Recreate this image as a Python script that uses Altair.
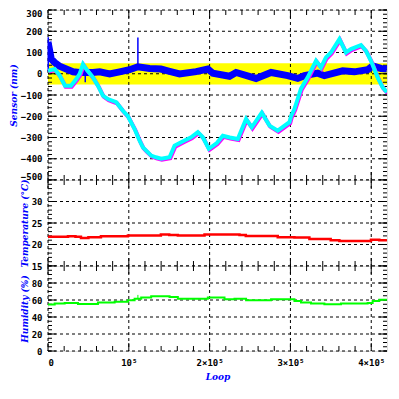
import altair as alt
import pandas as pd

XMAX = 419500
W = 339
H_TOP, H_MID, H_BOT = 170, 86, 85

# ---- data ----
blue_x = [0, 2000, 4080, 8280, 14460, 22620, 30900, 39180, 55620, 63900, 76260, 88630,
          100990, 111240, 125710, 139680, 150430, 162790, 183300, 197780, 203960, 224600,
          232750, 257490, 276020, 296660, 309020, 317300, 333730, 342010, 364640, 379100,
          395550, 401730, 412000, 419400]
blue_y = [150, 110, 69, 53, 35, 22, 9, 6, 6, 9, -1, 9,
          19, 33, 25, 22, 11, -1, 10, 22, 3, -12,
          6, -22, 6, -9, -22, -9, 3, -9, 14, 9,
          19, 37, 25, 22]

spike_x = [300, 46100, 111240]
spike_lo = [10, -40, 33]
spike_hi = [172, 5, 171]

cyan_x = [0, 8280, 14460, 21010, 28430, 34980, 39180, 43260, 47340, 55620, 61800, 67980,
          74170, 84430, 92710, 98890, 107170, 113350, 117430, 121510, 127690, 133500,
          140050, 150430, 156610, 164770, 168970, 177130, 185410, 191590, 199010, 208900,
          216320, 224970, 234860, 245120, 252170, 264530, 274050, 284310, 298770, 300740,
          304950, 313110, 321390, 331650, 337820, 344000, 350190, 360570, 368730, 374910,
          387280, 393450, 399630, 407910, 414090, 419400]
cyan_y = [14, 22, -9, -56, -56, -25, -1, 45, 22, -17, -56, -103,
          -119, -134, -174, -200, -260, -315, -346, -362, -385, -393,
          -400, -393, -338, -322, -314, -299, -275, -299, -353, -326,
          -292, -300, -307, -213, -252, -183, -244, -268, -228, -200,
          -166, -70, -17, 61, 30, 77, 100, 163, 100, 116,
          135, 108, 61, -17, -64, -87]
magenta_x = [900, 9180, 15360, 21910, 29330, 35880, 40080, 44160, 48240, 56520, 62700, 68880,
             75070, 85330, 93610, 99790, 108070, 114250, 118330, 122410, 128590, 134400,
             140950, 151330, 157510, 165670, 169870, 178030, 186310, 192490, 199910, 209800,
             217220, 225870, 235760, 246020, 253070, 265430, 274950, 285210, 299670, 301640,
             305850, 314010, 322290, 332550, 338720, 344900, 351090, 361470, 369630, 375810,
             388180, 394350, 400530, 408810, 414990, 420300]
magenta_y = [10, 17, -14, -61, -61, -30, -6, 40, 17, -22, -61, -108,
             -124, -139, -179, -205, -265, -320, -351, -367, -390, -398,
             -405, -398, -343, -327, -319, -304, -280, -304, -358, -331,
             -297, -305, -312, -218, -257, -188, -249, -273, -233, -205,
             -171, -75, -22, 56, 25, 72, 95, 158, 95, 111,
             130, 103, 56, -22, -69, -92]

temp_x = [0, 24720, 34000, 40790, 50000, 65510, 80000, 98890, 139680, 150000, 160690,
          185410, 193700, 236960, 244750, 263660, 284310, 304950, 323480, 349810,
          360570, 383190, 399630, 410000, 419400]
temp_y = [21.8, 21.9, 21.8, 21.5, 21.7, 21.9, 21.9, 22.1, 22.3, 22.2, 22.1,
          22.1, 22.3, 22.2, 22.0, 22.0, 21.7, 21.6, 21.3, 21.0,
          20.8, 20.8, 21.1, 21.0, 21.0]

hum_x = [0, 8280, 20640, 37080, 55620, 61800, 82450, 98890, 107170, 115330, 127690,
         150430, 160690, 185410, 197780, 218420, 230780, 245120, 267860, 276020, 298770,
         304950, 313110, 325470, 342010, 362530, 379100, 395550, 401730, 410010, 419400]
hum_y = [54.6, 55.8, 56.5, 55.3, 55.3, 57, 58, 59.6, 61.6, 62.8, 64.3,
         63.5, 61.6, 61.6, 62.8, 61, 61.6, 59.6, 59.6, 61, 61,
         58.8, 57, 55.8, 55, 55.8, 55.8, 56.5, 58.8, 60.4, 60.4]
hum_spike_x = [111240]
hum_spike_lo = [62]
hum_spike_hi = [66]

band_lo = [-50]
band_hi = [50]

x_major = [0, 100000, 200000, 300000, 400000]
x_minor = [v for v in range(0, 420000, 20000) if v % 100000 != 0]
sensor_major = [-500, -400, -300, -200, -100, 0, 100, 200, 300]
sensor_minor = list(range(-500, 301, 20))
temp_major = [15, 20, 25, 30, 35]
temp_minor = list(range(15, 36))
hum_major = [0, 20, 40, 60, 80, 100]
hum_minor = list(range(0, 101, 5))

LABEL_FONT = "DejaVu Sans Mono"
TITLE_FONT = "DejaVu Serif"
BLUE = "#0000FF"

xs = alt.Scale(domain=[0, XMAX], nice=False, zero=False)


def tdf(vals):
    return pd.DataFrame({"t": vals})


def yaxis(title, values, **kw):
    return alt.Axis(title=title, values=values, ticks=False, domain=False, grid=False,
                    labelPadding=6, titlePadding=2, titleColor=BLUE,
                    titleFont=TITLE_FONT, titleFontStyle="italic", titleFontWeight="bold",
                    titleFontSize=9, labelFont=LABEL_FONT, labelFontWeight="bold",
                    labelFontSize=9, labelColor="black", **kw)


def panel(H, ys, ymaj, ymin, xaxis, yax, pre, post):
    X = lambda f: alt.X(f, scale=xs, axis=xaxis)
    Y = lambda f: alt.Y(f, scale=ys, axis=yax)
    grid_style = dict(color="black", strokeDash=[3, 3], strokeWidth=1)
    layers = [p(X, Y) for p in pre]
    layers.append(alt.Chart(tdf(x_major)).mark_rule(**grid_style).encode(
        x=X("t:Q"), y=alt.value(0), y2=alt.value(H)))
    layers.append(alt.Chart(tdf(ymaj)).mark_rule(**grid_style).encode(
        y=Y("t:Q"), x=alt.value(0), x2=alt.value(W)))
    tick_style = dict(color="black", strokeWidth=1)
    for vals, L in ((x_minor, 5), (x_major, 8)):
        layers.append(alt.Chart(tdf(vals)).mark_rule(**tick_style).encode(
            x=X("t:Q"), y=alt.value(H), y2=alt.value(H - L)))
        layers.append(alt.Chart(tdf(vals)).mark_rule(**tick_style).encode(
            x=X("t:Q"), y=alt.value(0), y2=alt.value(L)))
    for vals, L in ((ymin, 4), (ymaj, 8)):
        layers.append(alt.Chart(tdf(vals)).mark_rule(**tick_style).encode(
            y=Y("t:Q"), x=alt.value(0), x2=alt.value(L)))
        layers.append(alt.Chart(tdf(vals)).mark_rule(**tick_style).encode(
            y=Y("t:Q"), x=alt.value(W), x2=alt.value(W - L)))
    layers += [p(X, Y) for p in post]
    return alt.layer(*layers).properties(width=W, height=H)


# ---- top panel: sensor ----
df_band = pd.DataFrame({"lo": band_lo, "hi": band_hi})
df_cyan = pd.DataFrame({"loop": cyan_x, "val": cyan_y})
df_mag = pd.DataFrame({"loop": magenta_x, "val": magenta_y})
df_blue = pd.DataFrame({"loop": blue_x, "val": blue_y})
df_spk = pd.DataFrame({"loop": spike_x, "lo": spike_lo, "hi": spike_hi})

top = panel(
    H_TOP, alt.Scale(domain=[-500, 300], nice=False, zero=False), sensor_major, sensor_minor,
    None, yaxis("Sensor (nm)", sensor_major, labelFlush=True, labelFlushOffset=1),
    pre=[lambda X, Y: alt.Chart(df_band).mark_rect(color="#FFFF00").encode(
        y=Y("lo:Q"), y2="hi:Q", x=alt.value(0), x2=alt.value(W))],
    post=[
        lambda X, Y: alt.Chart(df_blue).mark_line(color=BLUE, strokeWidth=7, clip=True).encode(
            x=X("loop:Q"), y=Y("val:Q")),
        lambda X, Y: alt.Chart(df_spk).mark_rule(color=BLUE, strokeWidth=1.5).encode(
            x=X("loop:Q"), y=Y("lo:Q"), y2="hi:Q"),
        lambda X, Y: alt.Chart(df_mag).mark_line(color="#FF00FF", strokeWidth=4, clip=True).encode(
            x=X("loop:Q"), y=Y("val:Q")),
        lambda X, Y: alt.Chart(df_cyan).mark_line(color="#00FFFF", strokeWidth=4, clip=True).encode(
            x=X("loop:Q"), y=Y("val:Q")),
    ])

# ---- middle panel: temperature ----
df_temp = pd.DataFrame({"loop": temp_x, "val": temp_y})
mid = panel(
    H_MID, alt.Scale(domain=[15, 35], nice=False, zero=False), temp_major, temp_minor,
    None, yaxis("Temperature (°C)", [15, 20, 25, 30]),
    pre=[],
    post=[lambda X, Y: alt.Chart(df_temp).mark_line(
        color="#FF0000", strokeWidth=2.5, interpolate="step-after", clip=True).encode(
        x=X("loop:Q"), y=Y("val:Q"))])

# ---- bottom panel: humidity ----
df_hum = pd.DataFrame({"loop": hum_x, "val": hum_y})
df_hspk = pd.DataFrame({"loop": hum_spike_x, "lo": hum_spike_lo, "hi": hum_spike_hi})
xaxis_bot = alt.Axis(title="Loop", values=x_major, ticks=False, domain=False, grid=False,
                     labelExpr="datum.value == 0 ? '0' : (datum.value == 100000 ? '10⁵' : (datum.value / 100000) + '×10⁵')",
                     labelPadding=7, titlePadding=5, titleColor=BLUE, titleFont=TITLE_FONT,
                     titleFontStyle="italic", titleFontWeight="bold", titleFontSize=9,
                     labelFont=LABEL_FONT, labelFontWeight="bold", labelFontSize=9,
                     labelColor="black")
bot = panel(
    H_BOT, alt.Scale(domain=[0, 100], nice=False, zero=False), hum_major, hum_minor,
    xaxis_bot, yaxis("Humidity (%)", [0, 20, 40, 60, 80]),
    pre=[],
    post=[
        lambda X, Y: alt.Chart(df_hum).mark_line(
            color="#00FF00", strokeWidth=2, interpolate="step-after", clip=True).encode(
            x=X("loop:Q"), y=Y("val:Q")),
        lambda X, Y: alt.Chart(df_hspk).mark_rule(color="#00FF00", strokeWidth=1).encode(
            x=X("loop:Q"), y=Y("lo:Q"), y2="hi:Q"),
    ])

chart = alt.vconcat(top, mid, bot, spacing=0, bounds="flush").properties(
    padding={"left": 0, "top": 0, "right": 2, "bottom": 2}
).configure_view(stroke="black", strokeWidth=1.2).configure(background="white")

chart.save("out.html", embed_options={"renderer": "svg", "actions": False})
